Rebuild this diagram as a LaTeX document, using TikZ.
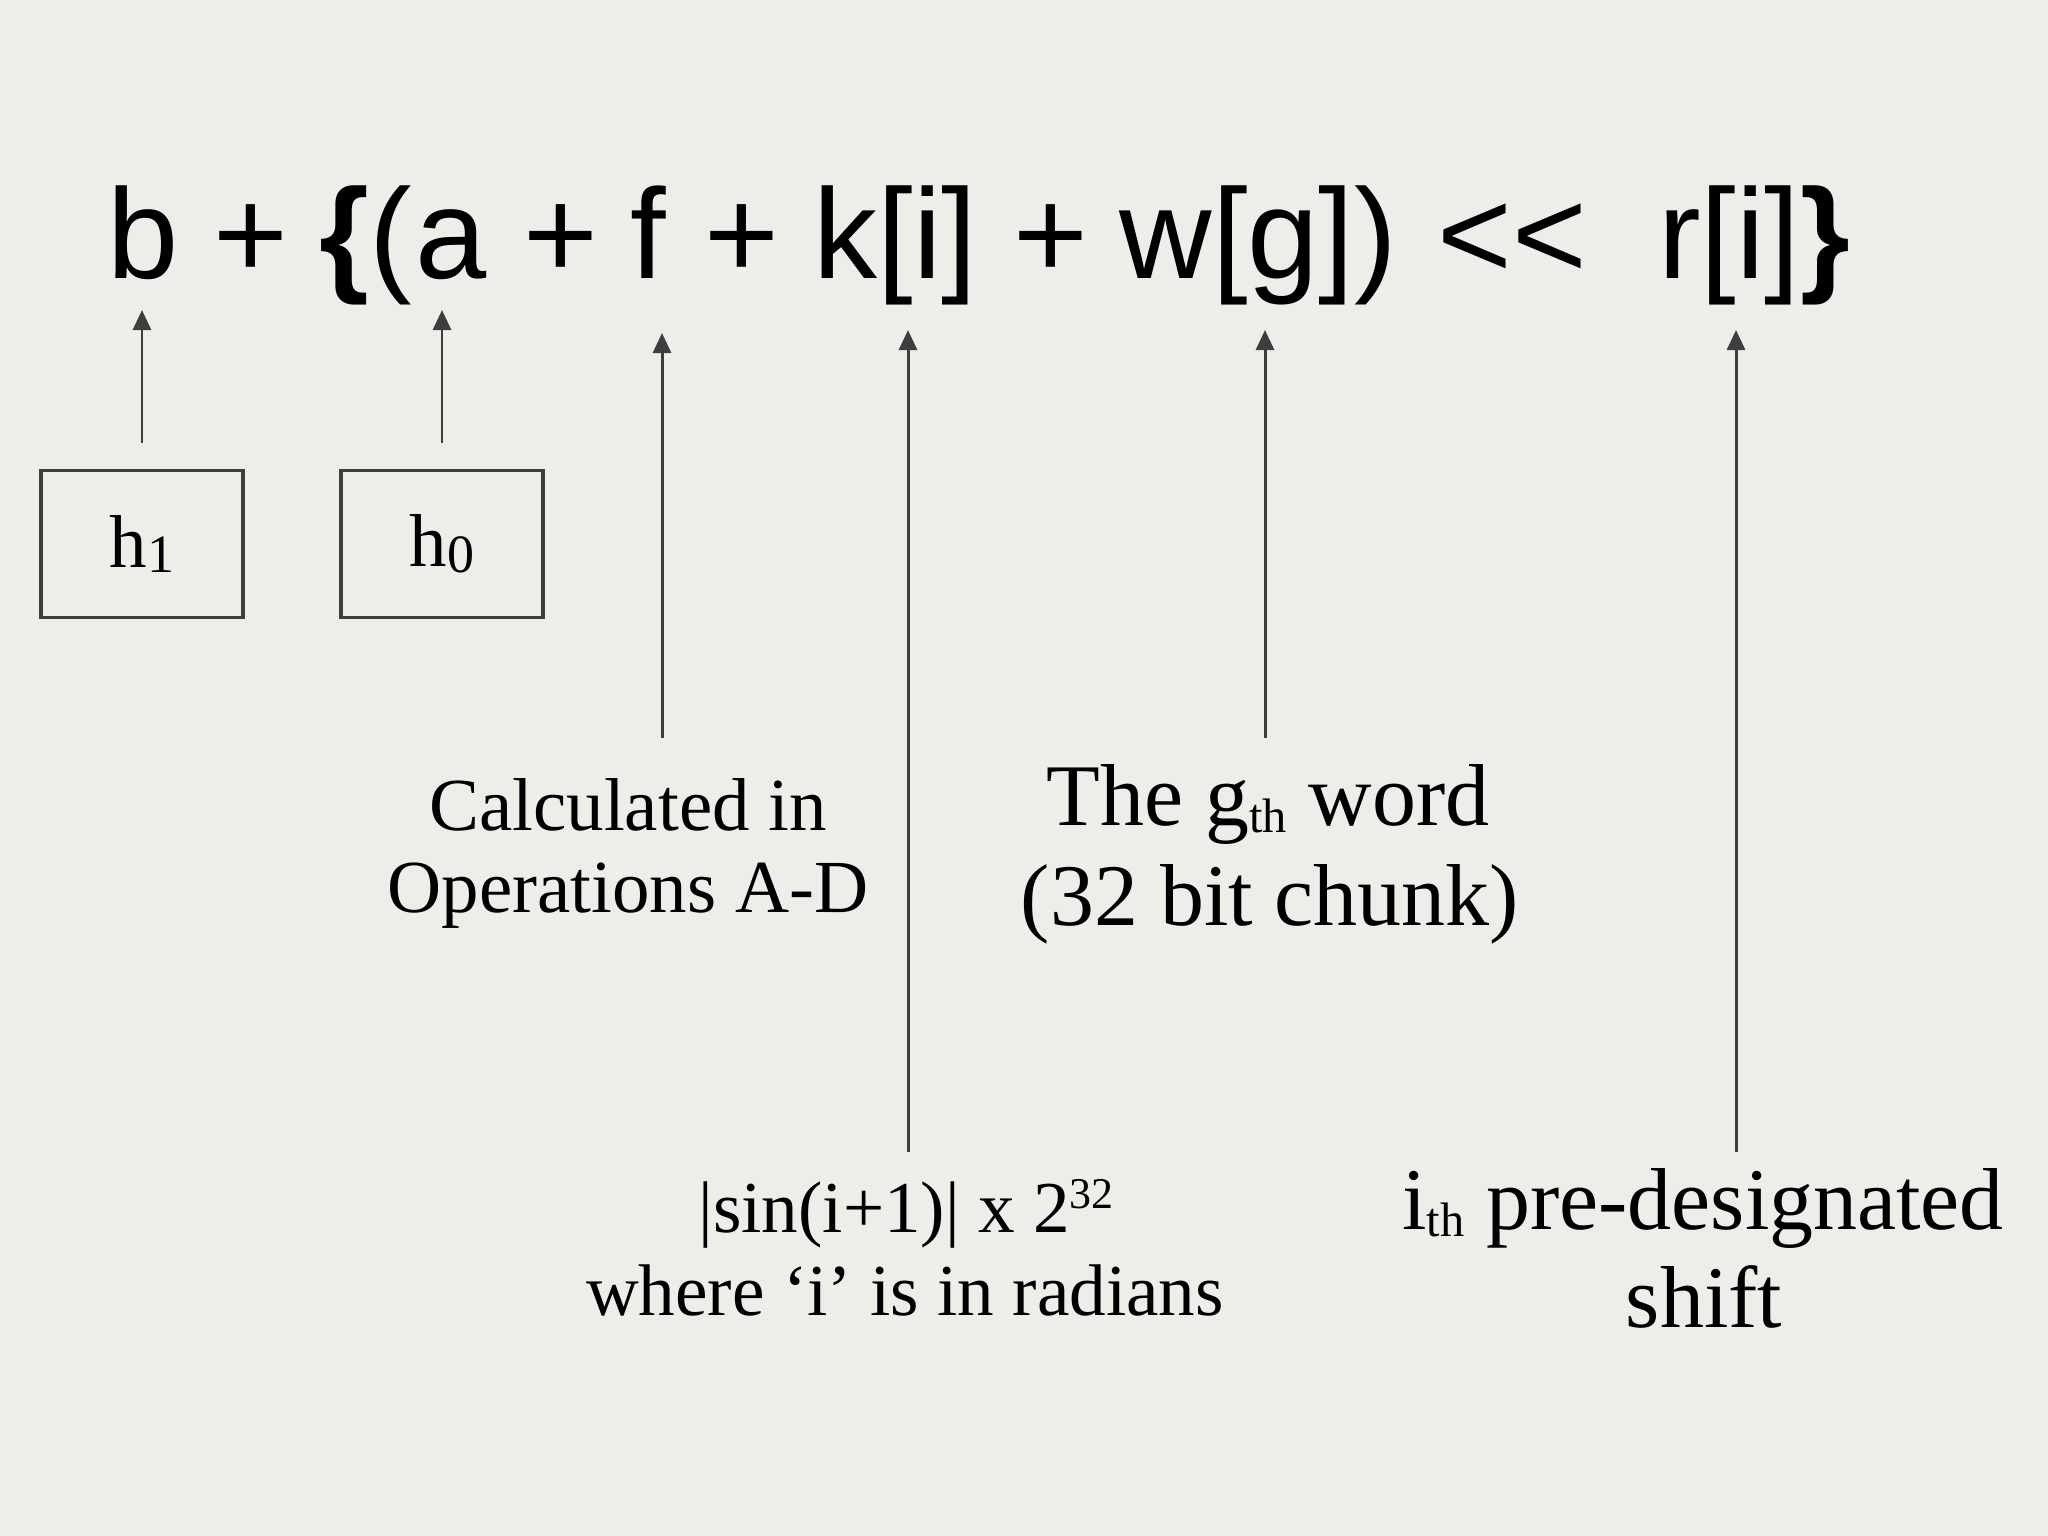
\documentclass[tikz,border=0pt]{standalone}
\usepackage{fontspec}
\setmainfont{Liberation Serif}
\newfontfamily\eqfont{Liberation Sans}
\usepackage{graphicx}
\usetikzlibrary{arrows.meta}
\definecolor{paper}{RGB}{238,237,234}
\definecolor{ink}{RGB}{62,62,62}
\newcommand\lowsub[2][0.55]{\raisebox{-0.08em}{\scalebox{#1}{#2}}}
\begin{document}
\begin{tikzpicture}[x=0.01cm,y=-0.01cm,
  arr/.style={draw=ink, line width=0.85pt, -{Triangle[width=0.18cm,length=0.2cm]}},
  hbox/.style={draw=ink, line width=0.9pt, minimum width=2.02cm, minimum height=1.47cm, inner sep=0pt, font=\fontsize{21.3}{25}\selectfont},
  lbl/.style={anchor=base, inner sep=0pt, font=\fontsize{21.3}{25}\selectfont},
  lblsin/.style={anchor=base, inner sep=0pt, font=\fontsize{20.8}{25}\selectfont},
  lblbig/.style={anchor=base, inner sep=0pt, font=\fontsize{25}{30}\selectfont},
  eq/.style={anchor=base, inner sep=0pt, font=\eqfont\fontsize{36.4}{40}\selectfont}]
\fill[paper] (0,0) rectangle (2048,1536);
\useasboundingbox (0,0) rectangle (2048,1536);

% equation, token by token
\node[eq] (eb)   at (143,278)    {b};
\node[eq] (ep1)  at (250.5,278)  {+};
\node[eq] (eopen) at (366,278)   {\textbf{\{}(};
\node[eq] (ea)   at (451.5,278)  {a};
\node[eq] (ep2)  at (560.5,278)  {+};
\node[eq] (ef)   at (648,278)    {f};
\node[eq] (ep3)  at (741.5,278)  {+};
\node[eq] (ek)   at (895.5,278)  {k[i]};
\node[eq] (ep4)  at (1050.5,278) {+};
\node[eq] (ew)   at (1258.5,278) {w[g])};
\node[eq] (eshl) at (1512,278)   {<\kern0pt<};
\node[eq] (er)   at (1754,278)   {r[i]\textbf{\}}};

\node[hbox] (h1) at (142,544) {h\lowsub[0.72]{1}};
\node[hbox] (h0) at (442,544) {h\lowsub[0.72]{0}};

\node[lbl] (calc1) at (628,830) {Calculated in};
\node[lbl] (calc2) at (628,912) {Operations A-D};
\node[lblbig] (word1) at (1268,825) {The g\lowsub{th} word};
\node[lblbig] (word2) at (1270,925) {(32 bit chunk)};
\node[lblsin] (sin1) at (906,1232) {|sin(i+1)| x 2\raisebox{0.32em}{\scalebox{0.6}{32}}};
\node[lblsin] (sin2) at (905,1315) {where ‘i’ is in radians};
\node[lblbig] (shift1) at (1703,1229) {i\lowsub{th} pre-designated};
\node[lblbig] (shift2) at (1704,1327) {shift};

\coordinate (tipB) at (141,310);
\coordinate (tipA) at (442,310);
\coordinate (tipF) at (662,333);
\coordinate (tailF) at (662,738);
\coordinate (tipK) at (908,330);
\coordinate (tailK) at (908,1152);
\coordinate (tipW) at (1265,330);
\coordinate (tailW) at (1265,738);
\coordinate (tipR) at (1736,330);
\coordinate (tailR) at (1736,1152);

\draw[arr, shorten <=0.26cm] (h1.north) -- (h1.north |- tipB);
\draw[arr, shorten <=0.26cm] (h0.north) -- (h0.north |- tipA);
\draw[arr] (tailF) -- (tipF);
\draw[arr] (tailK) -- (tipK);
\draw[arr] (tailW) -- (tipW);
\draw[arr] (tailR) -- (tipR);
\end{tikzpicture}
\end{document}
